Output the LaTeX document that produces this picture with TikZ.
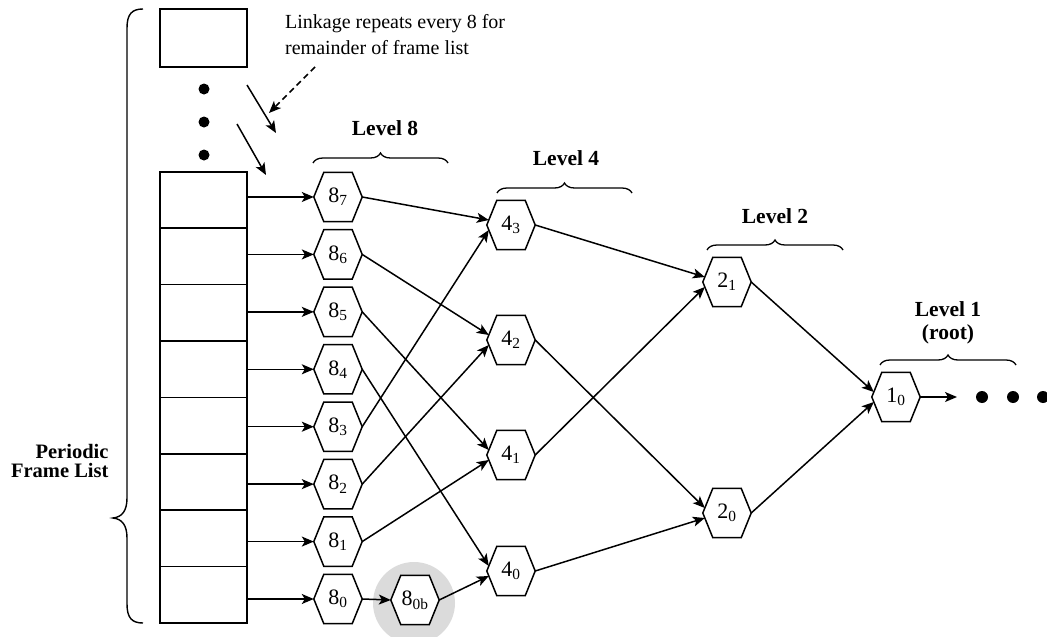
\documentclass[tikz,border=0pt]{standalone}
\usepackage{fontspec}
\setmainfont{Liberation Serif}
\usetikzlibrary{arrows.meta,calc,decorations.pathreplacing}
\begin{document}
\begin{tikzpicture}[x=1pt,y=-1pt,
  ln/.style={line width=1.5pt},
  arr/.style={line width=1.5pt,-{Stealth[length=12pt,width=10pt,inset=3pt]}},
  darr/.style={arr,dashed,dash pattern=on 6pt off 4pt},
  hexn/.style={minimum width=48pt,minimum height=49pt,inner sep=0pt,font=\fontsize{22}{22}\selectfont},
  cell/.style={draw,line width=1.5pt,minimum width=87pt,minimum height=56.4pt,inner sep=0pt},
  lvl/.style={font=\bfseries\fontsize{21.5}{24}\selectfont,anchor=base},
  txt/.style={font=\fontsize{20}{26}\selectfont},
  brc/.style={line width=1.3pt,decorate,decoration={brace,amplitude=10pt}},
  halo/.style={circle,fill=black!14,minimum size=82pt,inner sep=0pt}]
\useasboundingbox (0,0) rectangle (1047,637);

% grey halo behind 8_0b
\node[halo] (halo) at (414,603) {};

% periodic frame list
\foreach \i in {0,...,7} \node[cell] (c\i) at (203.5,{594.8-56.4*\i}) {};
\node[cell,minimum height=58pt] (tb) at (203.5,38) {};
\foreach \y in {89,122,155} \fill (204,\y) circle[radius=5.5pt];

% left brace
\draw[line width=1.4pt] (143,9) .. controls (132,9) and (127,14) .. (127,28) -- (127,498)
  .. controls (127,511) and (122,517) .. (113,518)
  .. controls (122,519) and (127,525) .. (127,538) -- (127,604)
  .. controls (127,618) and (132,623) .. (143,623);
\node[anchor=base east,font=\bfseries\fontsize{20.5}{20}\selectfont] (pfl1) at (112,458) {Periodic};
\node[anchor=base east,font=\bfseries\fontsize{20.5}{20}\selectfont] (pfl2) at (112,477) {Frame List};

% linkage note
\node[txt,anchor=base west,inner sep=0pt] (lk1) at (285,28) {Linkage repeats every 8 for};
\node[txt,anchor=base west,inner sep=0pt] (lk2) at (285,54) {remainder of frame list};
\coordinate (ds) at (315,67);
\coordinate (de) at (269,113);
\draw[darr] (ds) -- (de);
\coordinate (a1s) at (247,85);
\coordinate (a1e) at (276,133);
\coordinate (a2s) at (237,124);
\coordinate (a2e) at (266,175);
\draw[arr] (a1s) -- (a1e);
\draw[arr] (a2s) -- (a2e);

% hexagon nodes
\foreach \k in {0,...,7} \node[hexn] (h8\k) at (338,{599-57.43*\k}) {};
\node[hexn] (h8b) at (415,600) {};
\node[hexn] (h43) at (511,225) {};
\node[hexn] (h42) at (511,340) {};
\node[hexn] (h41) at (511,455) {};
\node[hexn] (h40) at (511,571) {};
\node[hexn] (h21) at (727,282) {};
\node[hexn] (h20) at (727,513) {};
\node[hexn] (h10) at (896,397) {};
\foreach \n in {h80,h81,h82,h83,h84,h85,h86,h87,h8b,h40,h41,h42,h43,h20,h21,h10}
  \filldraw[ln,fill=white,line join=miter] ($(\n.north west)+(10,0)$) -- ($(\n.north east)+(-10,0)$) -- (\n.east)
    -- ($(\n.south east)+(-10,0)$) -- ($(\n.south west)+(10,0)$) -- (\n.west) -- cycle;
\foreach \k in {0,...,7} \node[hexn] at (h8\k) {8\textsubscript{\k}};
\node[hexn] at (h8b) {8\textsubscript{0b}};
\node[hexn] at (h43) {4\textsubscript{3}};
\node[hexn] at (h42) {4\textsubscript{2}};
\node[hexn] at (h41) {4\textsubscript{1}};
\node[hexn] at (h40) {4\textsubscript{0}};
\node[hexn] at (h21) {2\textsubscript{1}};
\node[hexn] at (h20) {2\textsubscript{0}};
\node[hexn] at (h10) {1\textsubscript{0}};

% frame list to level 8
\foreach \k in {0,...,7} \draw[arr] (h8\k.west -| c\k.east) -- (h8\k.west);

% level 8 to level 4
\draw[arr] (h87.east) -- ($(h43.west)+(2,-5)$);
\draw[arr] (h83.east) -- ($(h43.west)+(2,5)$);
\draw[arr] (h86.east) -- ($(h42.west)+(2,-5)$);
\draw[arr] (h82.east) -- ($(h42.west)+(2,5)$);
\draw[arr] (h85.east) -- ($(h41.west)+(2,-5)$);
\draw[arr] (h81.east) -- ($(h41.west)+(2,5)$);
\draw[arr] (h84.east) -- ($(h40.west)+(2,-5)$);
\draw[arr] (h80.east) -- (h8b.west);
\draw[arr] (h8b.east) -- ($(h40.west)+(2,5)$);
% level 4 to level 2
\draw[arr] (h43.east) -- ($(h21.west)+(2,-5)$);
\draw[arr] (h41.east) -- ($(h21.west)+(2,5)$);
\draw[arr] (h42.east) -- ($(h20.west)+(2,-5)$);
\draw[arr] (h40.east) -- ($(h20.west)+(2,5)$);
% level 2 to root
\draw[arr] (h21.east) -- ($(h10.west)+(2,-5)$);
\draw[arr] (h20.east) -- ($(h10.west)+(2,5)$);
\coordinate (dend) at (957,397);
\draw[arr] (h10.east) -- (dend);
\foreach \x in {982,1013,1043} \fill (\x,397) circle[radius=6pt];

% level labels and braces
\node[lvl] (l8) at (385,135) {Level 8};
\draw[brc] (313,163) -- (448,163);
\node[lvl] (l4) at (566,165) {Level 4};
\draw[brc] (497,193) -- (632,193);
\node[lvl] (l2) at (775,223) {Level 2};
\draw[brc] (707,250) -- (843,250);
\node[lvl] (l1a) at (948,316) {Level 1};
\node[lvl] (l1b) at (948,339) {(root)};
\draw[brc] (880,365) -- (1016,365);
\end{tikzpicture}
\end{document}
